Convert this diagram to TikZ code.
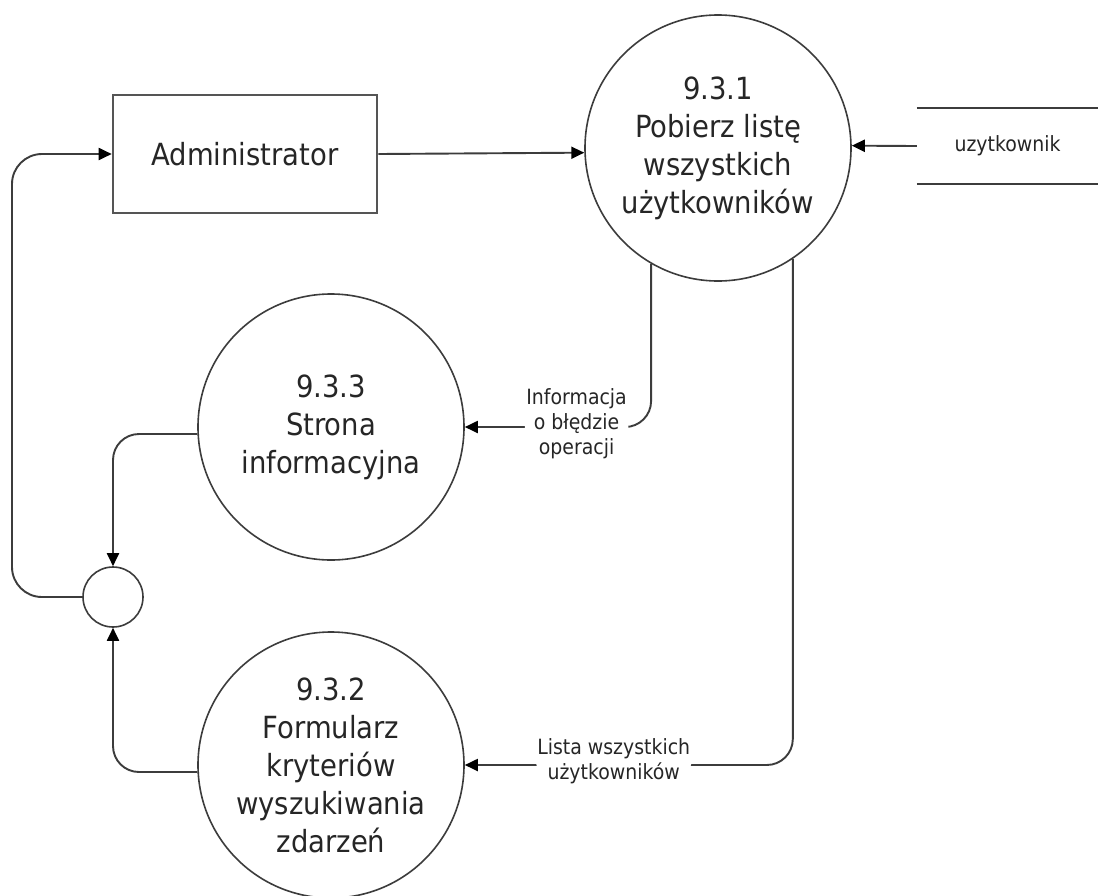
\documentclass[tikz,border=0pt]{standalone}
\usepackage{fontspec}
\setmainfont{DejaVu Sans}[FakeStretch=0.9]
\usetikzlibrary{arrows.meta}
\newcommand{\dfdbig}{\fontsize{30.5}{38}\selectfont}
\newcommand{\dfdsmall}{\fontsize{21}{25}\selectfont}
\definecolor{linec}{HTML}{3C3C3C}
\definecolor{boxc}{HTML}{555555}
\definecolor{txtc}{HTML}{262626}
\tikzset{
  proc/.style={circle, draw=linec, line width=1.6pt, minimum size=266pt, inner sep=0pt,
    align=center, font=\dfdbig, text=txtc},
  extent/.style={rectangle, draw=boxc, line width=2.6pt, minimum width=264pt,
    minimum height=118pt, font=\dfdbig, text=txtc},
  junction/.style={circle, draw=linec, line width=1.6pt, minimum size=60pt, inner sep=0pt},
  datastore/.style={rectangle, minimum width=181pt, minimum height=75pt, inner sep=0pt,
    font=\dfdsmall, text=txtc},
  storeline/.style={draw=linec, line width=1.8pt},
  flow/.style={draw=linec, line width=1.9pt, rounded corners=26pt,
    -{Triangle[length=13pt,width=12pt,fill=black,color=black]}},
  lbl/.style={fill=white, inner sep=1.5pt, align=center, font=\dfdsmall, text=txtc}
}
\begin{document}
\begin{tikzpicture}[x=1pt,y=-1pt]
\useasboundingbox (0,0) rectangle (1098,895);
\fill[white] (0,0) rectangle (1098,895);

\node[extent] (admin) at (245,154) {Administrator};
\node[proc] (p1) at (718,148) {9.3.1\\Pobierz listę\\wszystkich\\użytkowników};
\node[proc] (p3) at (331,427) {9.3.3\\Strona\\informacyjna};
\node[proc] (p2) at (331,765) {9.3.2\\Formularz\\kryteriów\\wyszukiwania\\zdarzeń};
\node[junction] (junc) at (113,597) {};
\node[datastore] (store) at (1007.5,146) {uzytkownik};
\draw[storeline] (store.north west) -- (store.north east);
\draw[storeline] (store.south west) -- (store.south east);

\coordinate (lc) at (12,597);

\draw[flow] (admin.east) -- (p1.182);
\draw[flow] (store.west) -- (p1.1);
\draw[flow] (p1.240) |- node[lbl, pos=0.7, yshift=3pt] {Informacja\\o błędzie\\operacji} (p3.east);
\draw[flow] (p1.304.8) |- node[lbl, pos=0.773, yshift=4pt] {Lista wszystkich\\użytkowników} (p2.east);
\draw[flow] (p3.183) -| (junc.north);
\draw[flow] (p2.183) -| (junc.south);
\draw[flow, rounded corners=30pt] (junc.west) -- (lc) |- (admin.west);
\end{tikzpicture}
\end{document}
